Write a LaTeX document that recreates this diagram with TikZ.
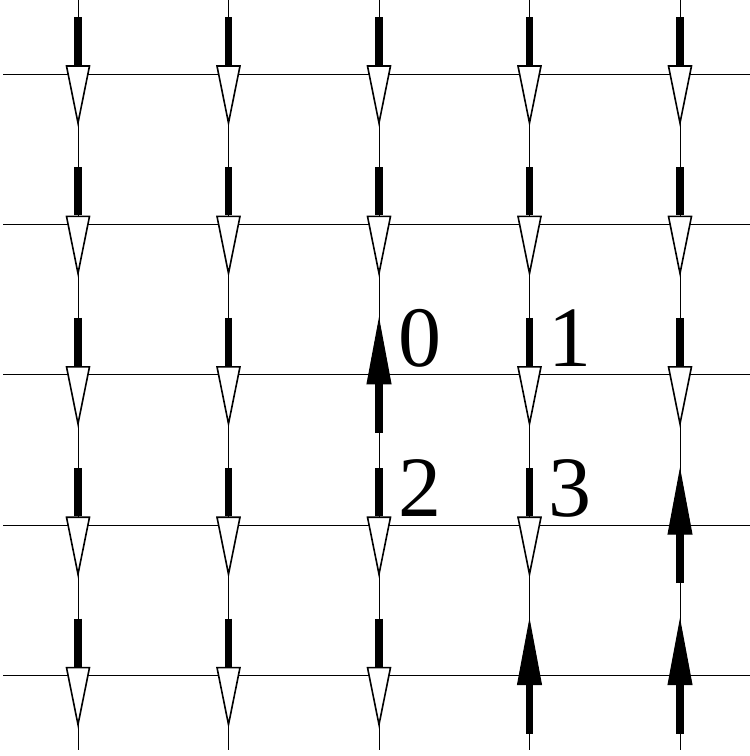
\documentclass[tikz,border=0pt]{standalone}
\usepackage{fontspec}
\setmainfont{Liberation Serif}

\tikzset{
  gridline/.style={line width=1pt},
  thickbar/.style={line width=7.5pt},
  openhead/.style={fill=white, draw=black, line width=1.6pt},
  solidhead/.style={fill=black, draw=black, line width=1pt},
  spinlabel/.style={font=\fontsize{86}{86}\selectfont, anchor=base west, inner sep=0pt}
}

% arrow through a lattice site, pointing down or up
\newcommand{\spindown}[1]{%
  \draw[thickbar, shift={(#1)}] (0,-57) -- (0,-9);
  \filldraw[openhead, shift={(#1)}] (-11.5,-8) -- (11.5,-8) -- (0,49) -- cycle;}
\newcommand{\spinup}[1]{%
  \draw[thickbar, shift={(#1)}] (0,58) -- (0,9);
  \filldraw[solidhead, shift={(#1)}] (-12,9) -- (12,9) -- (0,-55) -- cycle;}

\begin{document}
\begin{tikzpicture}[x=1pt, y=-1pt]
  \useasboundingbox (0,0) rectangle (750,756);

  % lattice
  \foreach \c in {1,...,5} {
    \coordinate (t\c) at ({78+150.5*(\c-1)}, 0);
    \coordinate (b\c) at ({78+150.5*(\c-1)}, 750);
    \coordinate (l\c) at (3, {74+150.4*(\c-1)});
    \coordinate (r\c) at (750, {74+150.4*(\c-1)});
    \draw[gridline] (t\c) -- (b\c);
    \draw[gridline] (l\c) -- (r\c);
  }

  % spins: 1 = down, -1 = up
  \foreach \c/\dirs in {1/{1,1,1,1,1}, 2/{1,1,1,1,1}, 3/{1,1,-1,1,1},
                        4/{1,1,1,1,-1}, 5/{1,1,1,-1,-1}} {
    \foreach \s [count=\r] in \dirs {
      \coordinate (v\c\r) at (t\c |- l\r);
      \ifnum\s=1 \spindown{v\c\r}\else \spinup{v\c\r}\fi
    }
  }

  \node[spinlabel] (n0) at (398,366) {0};
  \node[spinlabel] (n1) at (548,366) {1};
  \node[spinlabel] (n2) at (398,516) {2};
  \node[spinlabel] (n3) at (548,516) {3};
\end{tikzpicture}
\end{document}
